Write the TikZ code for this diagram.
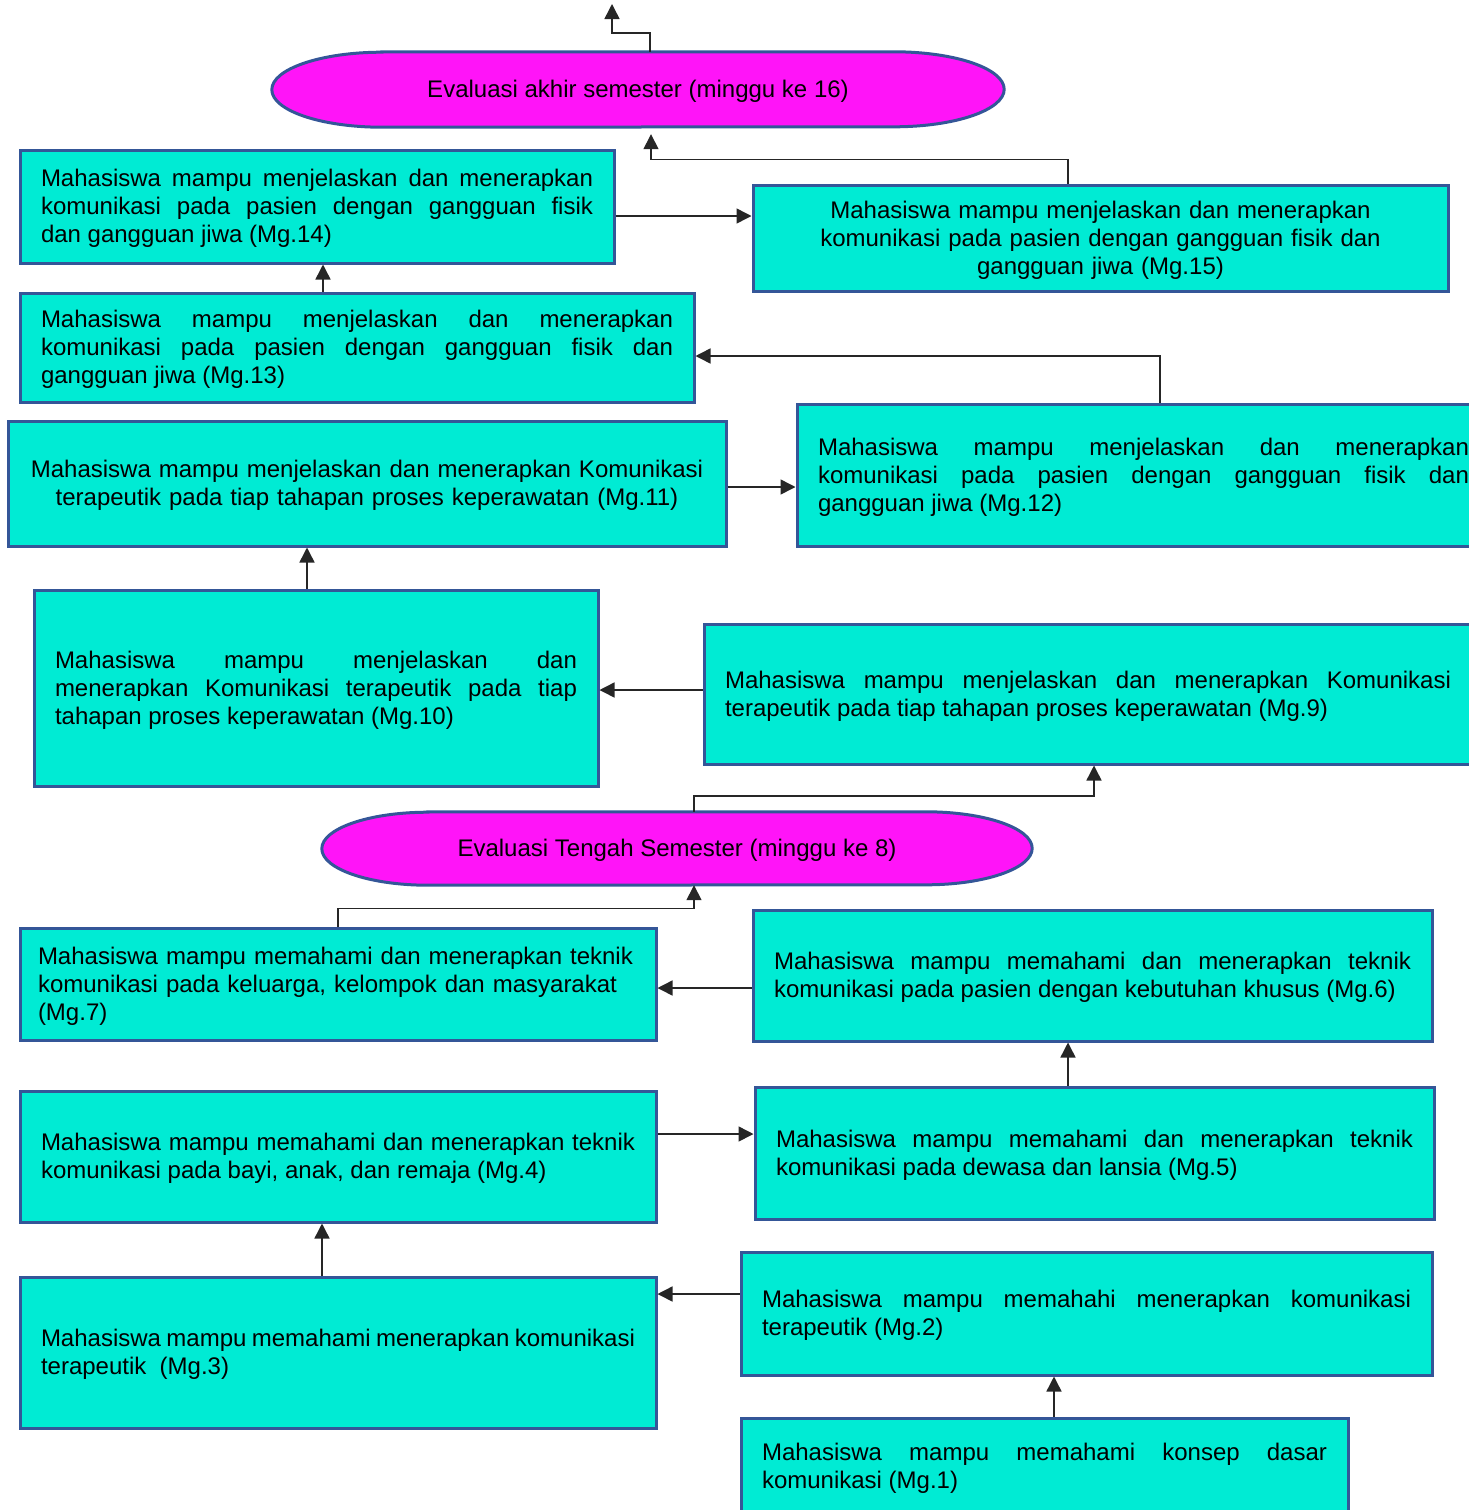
\documentclass[tikz,border=0pt]{standalone}
\usepackage{fontspec}
\setmainfont{Liberation Sans}
\usepackage{tikz}
\usetikzlibrary{calc, arrows.meta, backgrounds}

\definecolor{tosca}{RGB}{0,235,212}
\definecolor{garis}{RGB}{52,86,152}
\definecolor{ungu}{RGB}{255,20,248}

\tolerance=10000
\hbadness=10000

\tikzset{
  kotak/.style={draw=garis, line width=3pt, fill=tosca, rectangle, inner xsep=21pt, inner ysep=0pt, align=justify, font=\fontsize{24}{28}\selectfont, execute at begin node={\rule{0pt}{21.7pt}}},
  lonjong/.style={draw=garis, line width=3pt, fill=ungu},
  tekslonjong/.style={rectangle, inner sep=0pt, font=\fontsize{24}{28}\selectfont, execute at begin node={\rule{0pt}{21.7pt}}},
  panah/.style={line width=1.5pt, draw=black!85, -{Triangle[length=15pt,width=15pt]}}
}

\begin{document}
\begin{tikzpicture}[x=1pt, y=-1pt]
\useasboundingbox (0,0) rectangle (1469,1510);
\clip (0,0) rectangle (1469,1510);
% evaluasi akhir
\node [tekslonjong, minimum width=732pt, minimum height=75pt] (e16) at (638,89.5) {Evaluasi akhir semester (minggu ke 16)};
\coordinate (puncak) at (612,4);
% minggu 9 - 15
\node [kotak, minimum width=594pt, minimum height=113pt, text width=552pt] (b14) at (317,206.5) {Mahasiswa mampu menjelaskan dan menerapkan\linebreak komunikasi pada pasien dengan gangguan fisik\linebreak dan gangguan jiwa (Mg.14)};
\node [kotak, align=center, minimum width=695pt, minimum height=106pt, text width=653pt] (b15) at (1100.5,238) {Mahasiswa mampu menjelaskan dan menerapkan\\komunikasi pada pasien dengan gangguan fisik dan\\gangguan jiwa (Mg.15)};
\node [kotak, minimum width=674pt, minimum height=109pt, text width=632pt] (b13) at (357,347.5) {Mahasiswa mampu menjelaskan dan menerapkan\linebreak komunikasi pada pasien dengan gangguan fisik dan\linebreak gangguan jiwa (Mg.13)};
\node [kotak, minimum width=693pt, minimum height=142pt, text width=651pt] (b12) at (1143.5,475) {Mahasiswa mampu menjelaskan dan menerapkan\linebreak komunikasi pada pasien dengan gangguan fisik dan\linebreak gangguan jiwa (Mg.12)};
\node [kotak, align=center, minimum width=718pt, minimum height=125pt, text width=676pt] (b11) at (367,483.5) {Mahasiswa mampu menjelaskan dan menerapkan Komunikasi\\terapeutik pada tiap tahapan proses keperawatan (Mg.11)};
\node [kotak, minimum width=564pt, minimum height=196pt, text width=522pt] (b10) at (316,688) {Mahasiswa mampu menjelaskan dan\linebreak menerapkan Komunikasi terapeutik pada tiap\linebreak tahapan proses keperawatan (Mg.10)};
\node [kotak, minimum width=768pt, minimum height=140pt, text width=726pt] (b9) at (1088,694) {Mahasiswa mampu menjelaskan dan menerapkan Komunikasi\linebreak terapeutik pada tiap tahapan proses keperawatan (Mg.9)};
% evaluasi tengah
\node [tekslonjong, minimum width=710pt, minimum height=73pt] (e8) at (677,848.5) {Evaluasi Tengah Semester (minggu ke 8)};
% minggu 1 - 7
\node [kotak, align=left, inner xsep=18pt, minimum width=636pt, minimum height=112pt, text width=600pt] (b7) at (338,984) {Mahasiswa mampu memahami dan menerapkan teknik\\komunikasi pada keluarga, kelompok dan masyarakat\\(Mg.7)};
\node [kotak, minimum width=679pt, minimum height=131pt, text width=637pt] (b6) at (1092.5,975.5) {Mahasiswa mampu memahami dan menerapkan teknik\linebreak komunikasi pada pasien dengan kebutuhan khusus (Mg.6)};
\node [kotak, minimum width=636pt, minimum height=131pt, text width=594pt] (b4) at (338,1156.5) {Mahasiswa mampu memahami dan menerapkan teknik\linebreak komunikasi pada bayi, anak, dan remaja (Mg.4)};
\node [kotak, minimum width=679pt, minimum height=132pt, text width=637pt] (b5) at (1094.5,1153) {Mahasiswa mampu memahami dan menerapkan teknik\linebreak komunikasi pada dewasa dan lansia (Mg.5)};
\node [kotak, minimum width=636pt, minimum height=151pt, text width=594pt] (b3) at (338,1352.5) {Mahasiswa mampu memahami menerapkan komunikasi\linebreak terapeutik~~(Mg.3)};
\node [kotak, minimum width=691pt, minimum height=123pt, text width=649pt] (b2) at (1086.5,1313.5) {Mahasiswa mampu memahahi menerapkan komunikasi\linebreak terapeutik (Mg.2)};
\node [kotak, minimum width=607pt, minimum height=96pt, text width=565pt] (b1) at (1044.5,1466) {Mahasiswa mampu memahami konsep dasar\linebreak komunikasi (Mg.1)};
% bentuk lonjong
\begin{scope}[on background layer]
\draw [lonjong] ($(e16.north west)+(110,0)$) -- ($(e16.north east)+(-110,0)$) arc [start angle=-90, end angle=90, x radius=110, y radius=37.5] -- ($(e16.south west)+(110,0)$) arc [start angle=90, end angle=270, x radius=110, y radius=37.5] -- cycle;
\draw [lonjong] ($(e8.north west)+(106,0)$) -- ($(e8.north east)+(-106,0)$) arc [start angle=-90, end angle=90, x radius=106, y radius=36.5] -- ($(e8.south west)+(106,0)$) arc [start angle=90, end angle=270, x radius=106, y radius=36.5] -- cycle;
\end{scope}
% panah
\draw [panah] ($(b1.north)+(9.5,0)$) -- ($(b2.south)+(-32.5,0)$);
\draw [panah] ($(b2.west)+(0,-19.5)$) -- ($(b3.east)+(0,-58.5)$);
\draw [panah] ($(b3.north)+(-16,0)$) -- ($(b4.south)+(-16,0)$);
\draw [panah] ($(b4.east)+(0,-22.5)$) -- ($(b5.west)+(0,-19)$);
\draw [panah] ($(b5.north)+(-26.5,0)$) -- ($(b6.south)+(-24.5,0)$);
\draw [panah] ($(b6.west)+(0,12.5)$) -- ($(b7.east)+(0,4)$);
\draw [panah] (b7.north) -- ++(0,-18) -| ($(e8.south)+(17,0)$);
\draw [panah] ($(e8.north)+(17,0)$) -- ++(0,-16) -| ($(b9.south)+(6,0)$);
\draw [panah] ($(b9.west)+(0,-4)$) -- ($(b10.east)+(0,2)$);
\draw [panah] ($(b10.north)+(-9,0)$) -- ($(b11.south)+(-60,0)$);
\draw [panah] ($(b11.east)+(0,3.5)$) -- ($(b12.west)+(0,12)$);
\draw [panah] ($(b12.north)+(16.5,0)$) |- ($(b13.east)+(0,8.5)$);
\draw [panah] ($(b13.north)+(-34,0)$) -- ($(b14.south)+(6,0)$);
\draw [panah] ($(b14.east)+(0,9.5)$) -- ($(b15.west)+(0,-22)$);
\draw [panah] ($(b15.north)+(-32.5,0)$) -- ++(0,-24) -| ($(e16.south)+(13,7)$);
\draw [panah] ($(e16.north)+(12,0)$) -- ++(0,-19) -| (puncak);
\end{tikzpicture}
\end{document}
